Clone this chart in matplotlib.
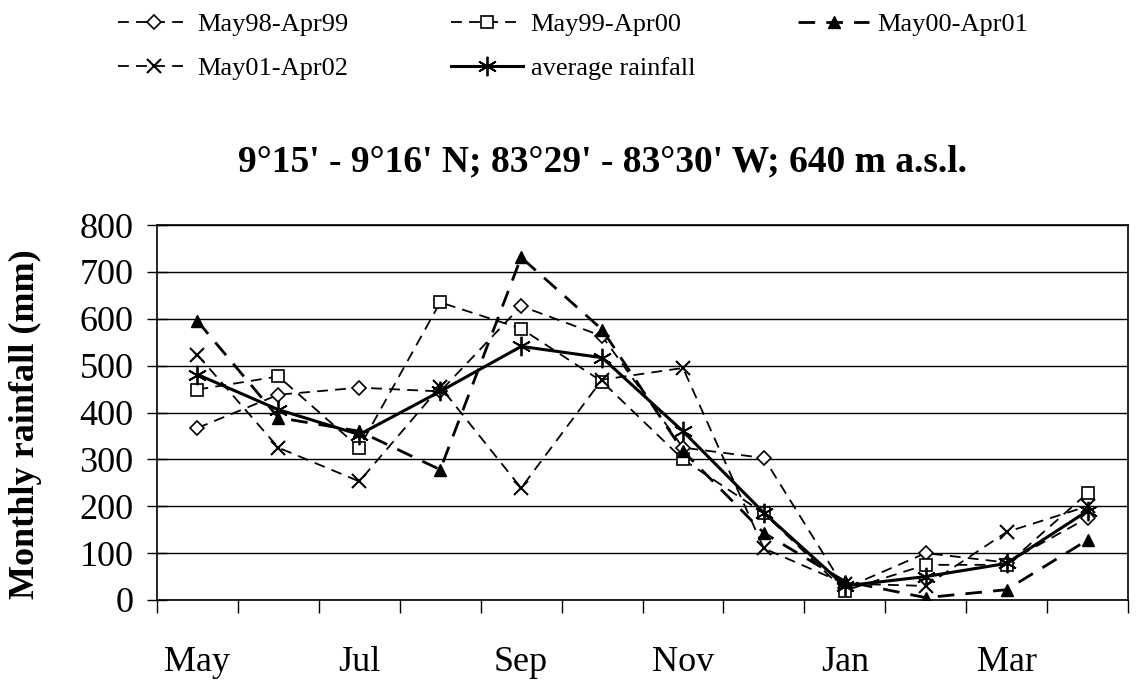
import matplotlib
matplotlib.use('Agg')
import matplotlib.pyplot as plt
import numpy as np

months = ['May', 'Jun', 'Jul', 'Aug', 'Sep', 'Oct', 'Nov', 'Dec', 'Jan', 'Feb', 'Mar', 'Apr']
may98_apr99 = [367, 438, 453, 445, 627, 563, 325, 303, 25, 100, 80, 175]
may99_apr00 = [449, 477, 325, 635, 579, 466, 300, 185, 20, 75, 75, 228]
may00_apr01 = [595, 389, 360, 278, 731, 577, 318, 143, 40, 5, 22, 128]
may01_apr02 = [523, 325, 253, 455, 239, 470, 495, 110, 35, 30, 145, 200]
avg_rain = [481, 406, 353, 445, 541, 517, 360, 186, 30, 50, 78, 190]

title = "9°15' - 9°16' N; 83°29' - 83°30' W; 640 m a.s.l."

plt.rcParams['font.family'] = ['Liberation Serif', 'DejaVu Serif']

fig = plt.figure(figsize=(11.36, 6.84), dpi=100)
ax = fig.add_axes([157 / 1136, 1 - 600 / 684, (1128 - 157) / 1136, (600 - 225) / 684])

x = np.arange(len(months))
dash = (0, (6, 4))

h1, = ax.plot(x, may98_apr99, ls=dash, lw=1.3, c='k', marker='D', ms=7,
              mfc='white', mec='k', mew=1.2, label='May98-Apr99')
h2, = ax.plot(x, may99_apr00, ls=dash, lw=1.3, c='k', marker='s', ms=8,
              mfc='white', mec='k', mew=1.2, label='May99-Apr00')
h3, = ax.plot(x, may00_apr01, ls=dash, lw=2.0, c='k', marker='^', ms=9,
              mfc='k', mec='k', label='May00-Apr01')
h4, = ax.plot(x, may01_apr02, ls=dash, lw=1.3, c='k', marker='x', ms=10,
              mew=1.5, label='May01-Apr02')
h5, = ax.plot(x, avg_rain, ls='-', lw=2.2, c='k', marker=(6, 2, 0), ms=14,
              mew=1.3, label='average rainfall')

ax.set_xlim(-0.5, 11.5)
ax.set_ylim(0, 800)
ax.set_yticks(np.arange(0, 801, 100))
ax.grid(axis='y', color='k', lw=1.0)
ax.set_axisbelow(True)

ax.set_xticks(x[::2])
ax.set_xticklabels(months[::2])
ax.set_xticks(np.arange(-0.5, 12, 1), minor=True)
ax.tick_params(axis='x', which='major', length=0, pad=33, labelsize=26)
ax.tick_params(axis='x', which='minor', length=9, width=1, direction='out')
ax.tick_params(axis='y', length=14, width=1, direction='inout', pad=10, labelsize=26)

for s in ax.spines.values():
    s.set_linewidth(1.2)

fig.text(0.022, 0.38, 'Monthly rainfall (mm)', rotation=90, ha='center', va='center',
         fontsize=26, fontweight='bold')
fig.text(0.53, 0.763, title, ha='center', va='center', fontsize=27, fontweight='bold')

handles = [h1, h4, h2, h5, h3]
fig.legend(handles=handles, labels=[h.get_label() for h in handles], ncol=3,
           loc='upper left', bbox_to_anchor=(0.104, 0.982), frameon=False,
           borderpad=0, borderaxespad=0,
           fontsize=19, handlelength=2.7, handletextpad=0.3, columnspacing=3.9,
           labelspacing=0.8)

plt.savefig('out.png', dpi=100)
